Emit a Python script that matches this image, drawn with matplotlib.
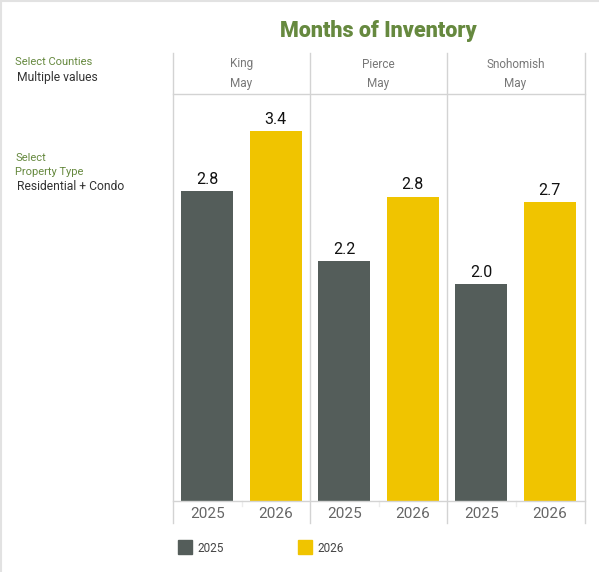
import matplotlib
matplotlib.use('Agg')
import matplotlib.pyplot as plt
from matplotlib.lines import Line2D
from matplotlib.patches import Rectangle

plt.rcParams['font.family'] = ['Roboto', 'DejaVu Sans']

# data
counties = ['King', 'Pierce', 'Snohomish']
month = 'May'
years = ['2025', '2026']
values_2025 = [2.84, 2.20, 1.99]
values_2026 = [3.39, 2.79, 2.74]

W, H = 599, 572
c_2025 = '#545d5a'
c_2026 = '#f0c400'
green = '#66893f'
grid = '#d3d3d3'

fig = plt.figure(figsize=(W / 100, H / 100), dpi=100)


def fx(x):
    return x / W


def fy(y):
    return 1 - y / H


def vline(x, y0, y1, color=grid, lw=1.0):
    fig.add_artist(Line2D([fx(x), fx(x)], [fy(y0), fy(y1)], color=color, lw=lw))


def hline(y, x0, x1, color=grid, lw=1.0):
    fig.add_artist(Line2D([fx(x0), fx(x1)], [fy(y), fy(y)], color=color, lw=lw))


# frame edges of the dashboard
hline(0.5, 0, W, color='#e2e2e2', lw=1.5)
vline(0.5, 0, H, color='#e2e2e2', lw=1.5)

fig.text(fx(378), fy(31), 'Months of Inventory', color=green, fontsize=15.5,
         fontweight='black', ha='center', va='center')

# filter panel on the left
fig.text(fx(15), fy(62), 'Select Counties', color=green, fontsize=8, va='center')
fig.text(fx(17), fy(78), 'Multiple values', color='#333333', fontsize=8.7, va='center')
fig.text(fx(15), fy(158), 'Select', color=green, fontsize=8, va='center')
fig.text(fx(15), fy(172), 'Property Type', color=green, fontsize=8, va='center')
fig.text(fx(17), fy(186), 'Residential + Condo', color='#333333', fontsize=8.7, va='center')

panel_left = [173, 310, 447]
panel_w = 137
top, base = 94, 501
ymax = 3.73

for i, county in enumerate(counties):
    x0 = panel_left[i]
    ax = fig.add_axes([fx(x0), fy(base), panel_w / W, (base - top) / H])
    vals = [values_2025[i], values_2026[i]]
    bars = ax.bar([0, 1], vals, width=0.76, color=[c_2025, c_2026])
    for b, v in zip(bars, vals):
        ax.annotate(f'{v:.1f}', (b.get_x() + b.get_width() / 2, v),
                    xytext=(0, 3), textcoords='offset points',
                    ha='center', va='bottom', fontsize=11.5, color='#111111')
    ax.set_xlim(-0.5, 1.5)
    ax.set_ylim(0, ymax)
    ax.set_yticks([])
    ax.set_xticks([0, 1], years)
    ax.tick_params(axis='x', length=0, pad=4, labelsize=11, labelcolor='#666666')
    for s in ax.spines.values():
        s.set_visible(False)
    ax.patch.set_alpha(0)

    cx = x0 + panel_w / 2
    fig.text(fx(cx), fy(64), county, color='#777777', fontsize=8.5, ha='center', va='center')
    fig.text(fx(cx), fy(84), month, color='#777777', fontsize=8.5, ha='center', va='center')
    vline(cx, base, base + 5, color='#ececec')

for x in panel_left + [585]:
    vline(x, 53, 523)
hline(93.5, 173, 585)
hline(501, 173, 585)

# legend
for lx, col, lab in [(178, c_2025, years[0]), (298, c_2026, years[1])]:
    fig.add_artist(Rectangle((fx(lx), fy(554)), 14 / W, 14 / H, color=col,
                             transform=fig.transFigure))
    fig.text(fx(lx + 19), fy(548), lab, color='#444444', fontsize=8.5, va='center')

fig.savefig('out.png', dpi=100)
